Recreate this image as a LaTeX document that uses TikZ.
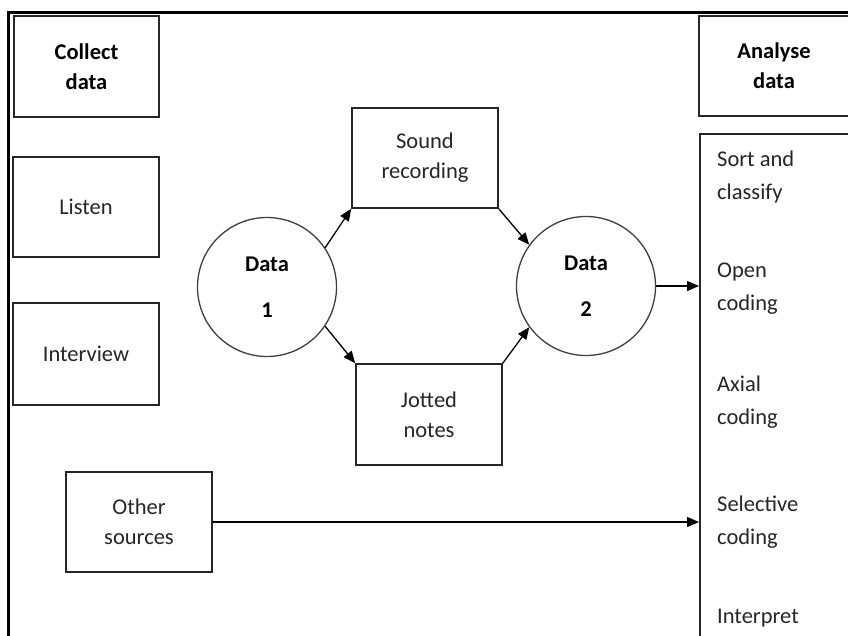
\documentclass[tikz,border=0pt]{standalone}
\usepackage{fontspec}
\setmainfont{Carlito}
\usetikzlibrary{arrows.meta}
\begin{document}
\begin{tikzpicture}[x=1pt,y=-1pt,
  box/.style={draw=black!85,line width=1.6pt,rectangle,inner sep=0pt,align=center,
    minimum width=146pt,minimum height=100pt,font=\fontsize{22.5}{30}\selectfont,text=black!85},
  hbox/.style={box,font=\fontsize{22.5}{30}\selectfont\bfseries,text=black},
  datac/.style={draw=black!75,line width=1.3pt,circle,minimum size=139pt,inner sep=0pt,
    align=center,font=\fontsize{22.5}{30}\selectfont\bfseries},
  coltext/.style={anchor=west,inner sep=0pt,align=left,font=\fontsize{22.5}{33}\selectfont,text=black!85},
  arr/.style={line width=1.3pt,-{Triangle[length=12pt,width=10pt]}}
]
\useasboundingbox (0,0) rectangle (848,636);
\clip (0,0) rectangle (848,636);
\fill[white] (0,0) rectangle (848,636);
% outer frame
\draw[line width=3pt] (8.5,640) -- (8.5,12.5) -- (852,12.5);
% left column
\node[hbox,minimum width=145pt,minimum height=101pt] (collect) at (86.5,66.5) {Collect\\data};
\node[box] (listen) at (86,207) {Listen};
\node[box,minimum height=102pt] (interview) at (86,354) {Interview};
\node[box] (other) at (139,522) {Other\\sources};
% middle
\node[box] (sound) at (425,158) {Sound\\recording};
\node[box,minimum height=101pt] (jotted) at (429,414.5) {Jotted\\notes};
\node[datac] (d1) at (267,287) {Data\\[16pt]1};
\node[datac] (d2) at (586,286) {Data\\[16pt]2};
% right column
\node[hbox,minimum width=150pt] (analyse) at (774,66) {Analyse\\data};
\node[draw=black!85,line width=1.6pt,rectangle,anchor=north west,minimum width=160pt,
  minimum height=530pt,inner sep=0pt] (col) at (699,133) {};
\node[coltext] (t1) at (717,177) {Sort and\\classify};
\node[coltext] (t2) at (717,289) {Open\\coding};
\node[coltext] (t3) at (717,402) {Axial\\coding};
\node[coltext] (t4) at (717,522) {Selective\\coding};
\node[coltext] (t5) at (717,618) {Interpret};
% connectors
\draw[arr] (d1.34) -- (sound.south west);
\draw[arr] (d1.-34) -- (jotted.north west);
\draw[arr] (sound.south east) -- (d2.144);
\draw[arr] (jotted.north east) -- (d2.216);
\draw[arr] (d2.east) -- (d2.east -| col.west);
\draw[arr] (other.east) -- (other.east -| col.west);
\end{tikzpicture}
\end{document}
